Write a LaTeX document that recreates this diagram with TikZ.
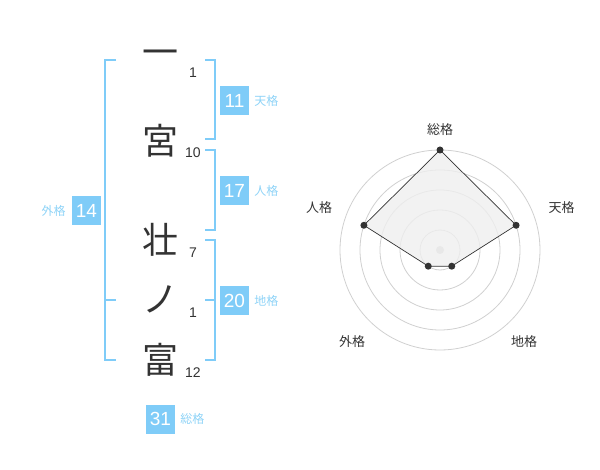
\documentclass[tikz,border=0pt]{standalone}
\usepackage{fontspec}
\setmainfont{Liberation Sans}
\newfontfamily\jpfont{Noto Sans CJK JP}
\usetikzlibrary{positioning}
\definecolor{kakublue}{HTML}{7FCCF8}
\definecolor{kakutext}{HTML}{8ED3F7}
\definecolor{inkgray}{HTML}{333333}
\definecolor{ringgray}{HTML}{D0D0D0}
\definecolor{areagray}{HTML}{EFEFEF}

\begin{document}
\begin{tikzpicture}[x=1pt, y=-1pt, line join = round, line cap = round,
    kanji/.style={font=\jpfont\fontsize{36}{36}\selectfont, text=inkgray, inner sep=0pt},
    strokes/.style={font=\fontsize{14}{14}\selectfont, text=inkgray, inner sep=0pt},
    kakubox/.style={fill=kakublue, text=white, minimum size=29pt, inner sep=0pt, font=\fontsize{19}{19}\selectfont},
    kakuname/.style={font=\jpfont\fontsize{12}{12}\selectfont, text=kakutext, inner sep=0pt},
    bracket/.style={draw=kakublue, line width=2pt, line cap=butt, line join=miter},
    ring/.style={draw=ringgray, line width=0.8pt},
    axisname/.style={font=\jpfont\fontsize{13}{13}\selectfont, text=inkgray, inner sep=0pt},
    vdot/.style={circle, fill=inkgray, inner sep=0pt, minimum size=7pt}]

                                \useasboundingbox (0,0) rectangle (600,470);

                                % name, one character a row
                                \node [kanji] (c1) at (160,58) {一};
                                \node [kanji] (c2) at (160,141) {宮};
                                \node [kanji] (c3) at (160,240) {壮};
                                \node [kanji] (c4) at (160,299) {ノ};
                                \node [kanji] (c5) at (160,360) {富};

                                % stroke counts
                                \node [strokes] (n1) at (193,73) {1};
                                \node [strokes] (n2) at (193,153) {10};
                                \node [strokes] (n3) at (193,253) {7};
                                \node [strokes] (n4) at (193,313) {1};
                                \node [strokes] (n5) at (193,373) {12};

                                % brackets
                                \draw[bracket] (116,60) -- (105,60) -- (105,360) -- (116,360);
                                \draw[bracket] (105,300) -- (116,300);
                                \draw[bracket] (205,60) -- (215,60) -- (215,139) -- (205,139);
                                \draw[bracket] (205,150) -- (215,150) -- (215,230) -- (205,230);
                                \draw[bracket] (205,240) -- (215,240) -- (215,360) -- (205,360);
                                \draw[bracket] (205,300) -- (215,300);

                                % the five kaku
                                \node [kakubox] (ten) at (234.5,100.5) {11};
                                \node [kakuname, right=5pt of ten] (tenname) {天格};
                                \node [kakubox] (jin) at (234.5,190.5) {17};
                                \node [kakuname, right=5pt of jin] (jinname) {人格};
                                \node [kakubox] (gai) at (86.5,210.5) {14};
                                \node [kakuname, left=6pt of gai] (gainame) {外格};
                                \node [kakubox] (chi) at (234.5,300.5) {20};
                                \node [kakuname, right=5pt of chi] (chiname) {地格};
                                \node [kakubox] (sou) at (160.5,419) {31};
                                \node [kakuname, right=5pt of sou] (souname) {総格};

                                % radar
                                \coordinate (o) at (440,250);
                                \foreach \r in {20,40,...,100}
                                    \draw[ring] (o) circle [radius=\r];
                                \foreach \name/\ang/\val/\lx/\ly [count=\i] in {総格/-90/100/440/130, 天格/-18/80/561.5/208, 地格/54/20/524/342, 外格/126/20/352/342, 人格/198/80/319/208} {
                                    \coordinate (p\i) at ([shift={(\ang:\val)}]o);
                                    \node [axisname] (a\i) at (\lx,\ly) {\name};
                                }
                                \fill[ringgray] (o) circle [radius=4];
                                \draw[inkgray, line width=0.7pt, fill=areagray, fill opacity=0.8] (p1) -- (p2) -- (p3) -- (p4) -- (p5) -- cycle;
                                \foreach \i in {1,...,5}
                                    \node [vdot] at (p\i) {};

\end{tikzpicture}
\end{document}
